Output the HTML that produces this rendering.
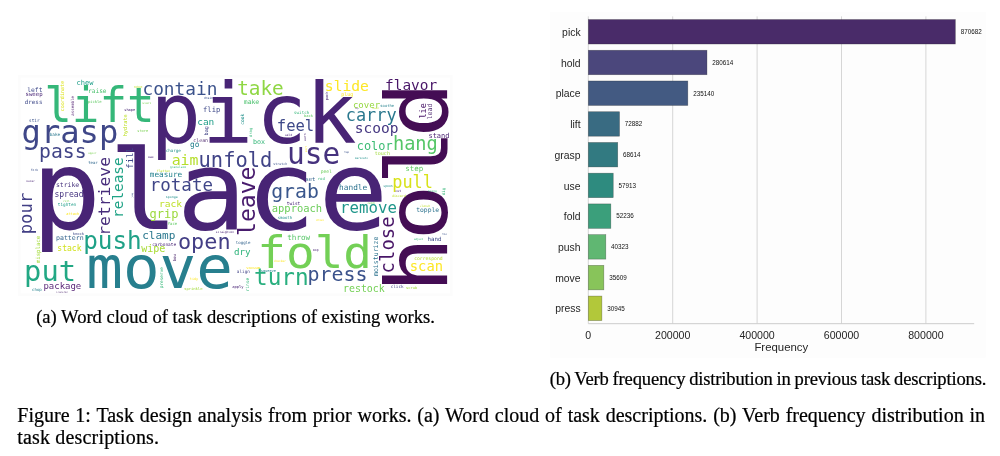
<!DOCTYPE html>
<html><head><meta charset="utf-8"><title>Figure 1</title>
<style>
html,body{margin:0;padding:0;background:#fff;}
body{width:1000px;height:456px;position:relative;overflow:hidden;font-family:"Liberation Serif",serif;color:#000;}
svg{position:absolute;left:0;top:0;}
svg text{font-family:"DejaVu Sans Mono","Liberation Mono",monospace;}
svg text.ar{font-family:"Liberation Sans",sans-serif;}
.cap{position:absolute;white-space:nowrap;-webkit-text-stroke:0.22px #000;}
#ca{left:36.2px;top:305.6px;font-size:18.57px;line-height:22px;}
#cb{left:549.7px;top:368.1px;font-size:18.57px;line-height:22px;word-spacing:-0.6px;letter-spacing:-0.17px;}
#fig{left:17.3px;top:403.5px;width:967.8px;font-size:20px;line-height:22px;white-space:normal;text-align:justify;}
</style></head><body>
<svg width="1000" height="456" viewBox="0 0 1000 456">
<rect x="19.4" y="76.3" width="431.9" height="218.4" fill="#ffffff" stroke="#fcfcfc" stroke-width="2.6"/>
<g id="cloud">
<text transform="translate(0,228.80) scale(1,0.955)" x="31.31 108.60 176.39 245.74 318.27" y="0" font-size="116.60" fill="#482475">place</text>
<text transform="translate(446.60,0) rotate(-90) scale(1,0.923)" x="-292.84 -240.52 -185.38 -137.60" y="0" font-size="93.00" fill="#440d54">hold</text>
<text transform="translate(0,143.00) scale(1,0.98)" x="151.26" y="0" dx="-1 1 3 -1.2" font-size="84.54" fill="#482475">pick</text>
<text transform="translate(0,288.00) scale(1,0.96)" x="86.27" y="0" font-size="60.88" fill="#277f8e">move</text>
<text transform="translate(0,268.20) scale(1,0.945)" x="257.28" y="0" font-size="47.65" fill="#73d056">fold</text>
<text transform="translate(0,122.40) scale(1,1.04)" x="44.22" y="0" font-size="45.89" fill="#35b779">lift</text>
<text x="21.58" y="143.00" font-size="32.11" fill="#3f4788">grasp</text>
<text x="287.07" y="163.80" font-size="29.46" fill="#46327e">use</text>
<text x="24.10" y="281.00" font-size="28.74" fill="#22a884">put</text>
<text x="83.16" y="248.80" font-size="24.32" fill="#1fa187">push</text>
<text transform="translate(254.60,235.98) rotate(-90)" font-size="23.09" fill="#481b6d">leave</text>
<text x="253.97" y="284.80" font-size="22.69" fill="#29af7f">turn</text>
<text x="177.96" y="248.80" font-size="21.84" fill="#433e85">open</text>
<text x="198.59" y="166.50" font-size="20.42" fill="#414487">unfold</text>
<text x="307.59" y="281.20" font-size="19.91" fill="#3b528b">press</text>
<text x="271.16" y="197.90" font-size="19.79" fill="#39568c">grab</text>
<text x="39.11" y="158.20" font-size="19.72" fill="#414487">pass</text>
<text x="237.13" y="95.00" font-size="19.38" fill="#8fd744">take</text>
<text transform="translate(394.40,273.39) rotate(-90)" font-size="18.96" fill="#481567">close</text>
<text x="392.94" y="149.60" font-size="18.64" fill="#55c667">hang</text>
<text x="142.46" y="94.50" font-size="17.78" fill="#3b528b">contain</text>
<text x="149.79" y="190.60" font-size="17.49" fill="#404688">rotate</text>
<text transform="translate(32.40,234.30) rotate(-90)" font-size="17.30" fill="#423f85">pour</text>
<text x="345.76" y="121.00" font-size="16.91" fill="#2a788e">carry</text>
<text x="392.32" y="187.90" font-size="16.88" fill="#d8e219">pull</text>
<text transform="translate(109.80,235.79) rotate(-90)" font-size="16.37" fill="#472d7b">retrieve</text>
<text x="340.05" y="213.40" font-size="15.74" fill="#1f968b">remove</text>
<text x="276.78" y="130.60" font-size="15.56" fill="#3e4989">feel</text>
<text x="171.66" y="164.50" font-size="14.85" fill="#b5de2b">aim</text>
<text x="324.82" y="91.00" font-size="14.65" fill="#fde725">slide</text>
<text x="354.83" y="133.00" font-size="14.53" fill="#453781">scoop</text>
<text x="385.01" y="89.60" font-size="14.44" fill="#481567">flavor</text>
<text transform="translate(122.90,217.88) rotate(-90)" font-size="14.35" fill="#20a386">release</text>
<text x="409.82" y="270.90" font-size="13.77" fill="#fde725">scan</text>
<text x="149.49" y="217.90" font-size="12.06" fill="#9bd93c">grip</text>
<text x="356.73" y="149.60" font-size="11.91" fill="#3dbc74">color</text>
<text x="142.19" y="239.20" font-size="11.04" fill="#2a788e">clamp</text>
<text x="271.72" y="211.90" font-size="10.47" fill="#6ccd5a">approach</text>
<text x="141.18" y="251.90" font-size="10.06" fill="#a8db34">wipe</text>
<text x="342.97" y="291.90" font-size="9.94" fill="#74d055">restock</text>
<text x="158.88" y="206.50" font-size="9.59" fill="#bddf26">rack</text>
<text x="197.22" y="125.00" font-size="9.46" fill="#1f9e89">can</text>
<text x="233.97" y="254.80" font-size="9.22" fill="#2fb47c">dry</text>
<text x="352.94" y="108.00" font-size="9.04" fill="#95d840">cover</text>
<text x="43.45" y="288.90" font-size="8.97" fill="#5c2a7a">package</text>
<text transform="translate(133.00,168.69) rotate(-90)" font-size="8.89" fill="#3e4989">fill</text>
<text transform="translate(426.00,118.55) rotate(-90)" font-size="8.48" fill="#481567">lie</text>
<text x="54.38" y="197.30" font-size="8.07" fill="#463480">spread</text>
<text x="57.35" y="250.90" font-size="8.04" fill="#d0e11c">stack</text>
<text x="189.99" y="147.00" font-size="7.84" fill="#26828e">go</text>
<text x="339.06" y="189.90" font-size="7.80" fill="#2c728e">handle</text>
<text x="149.84" y="176.50" font-size="7.68" fill="#26828e">measure</text>
<text x="287.29" y="240.30" font-size="7.62" fill="#56c667">throw</text>
<text x="405.36" y="170.90" font-size="7.46" fill="#5ec962">step</text>
<text x="203.04" y="111.60" font-size="7.17" fill="#3e4989">flip</text>
<text x="76.45" y="85.00" font-size="7.07" fill="#1f9e89">chew</text>
<text x="428.43" y="138.40" font-size="7.00" fill="#481f70">stand</text>
<text x="253.07" y="143.80" font-size="6.69" fill="#35b779">box</text>
<text transform="translate(431.60,119.40) rotate(-90)" font-size="6.60" fill="#5c3a7a">lead</text>
<text x="55.99" y="240.40" font-size="6.57" fill="#33638d">pattern</text>
<text transform="translate(378.40,276.05) rotate(-90)" font-size="6.57" fill="#2c728e">moisturize</text>
<text x="55.91" y="187.30" font-size="6.45" fill="#46327e">strike</text>
<text x="243.77" y="104.40" font-size="6.43" fill="#4ac16d">make</text>
<text x="416.17" y="211.90" font-size="6.37" fill="#2c728e">topple</text>
<text x="27.22" y="91.60" font-size="6.35" fill="#3e4989">left</text>
<text x="88.05" y="93.00" font-size="6.17" fill="#4ac16d">raise</text>
<text x="24.78" y="104.40" font-size="5.87" fill="#3e4989">dress</text>
<text x="427.55" y="241.10" font-size="5.77" fill="#3e4989">hand</text>
<text x="25.54" y="96.40" font-size="5.67" fill="#482475">sweep</text>
<text transform="translate(40.20,263.09) rotate(-90)" font-size="5.65" fill="#a2da37">misplace</text>
<text x="305.50" y="180.90" font-size="5.51" fill="#33638d">set</text>
<text transform="translate(127.00,136.34) rotate(-90)" font-size="5.24" fill="#bddf26">hydrate</text>
<text transform="translate(208.30,135.41) rotate(-90)" font-size="5.10" fill="#414487">bag</text>
<text x="341.22" y="95.60" font-size="5.05" fill="#fde725">plug</text>
<text transform="translate(64.40,111.25) rotate(-90)" font-size="5.04" fill="#dde318">coordinate</text>
<text x="374.80" y="155.40" font-size="5.03" fill="#a0da39">touch</text>
<text x="193.24" y="141.60" font-size="4.95" fill="#5c3a7a">clean</text>
<text x="414.16" y="260.30" font-size="4.73" fill="#b8de29">correspond</text>
<text x="320.64" y="172.50" font-size="4.71" fill="#6ccd5a">peel</text>
<text transform="translate(243.60,124.76) rotate(-90)" font-size="4.63" fill="#21918c">cook</text>
<text x="286.82" y="204.50" font-size="4.49" fill="#482475">twist</text>
<text transform="translate(249.00,291.29) rotate(-90)" font-size="4.47" fill="#35b779">rinse</text>
<text x="29.02" y="121.60" font-size="4.43" fill="#3b528b">stir</text>
<text transform="translate(163.30,288.25) rotate(-90)" font-size="4.43" fill="#35b779">preserve</text>
<text x="152.16" y="245.90" font-size="4.41" fill="#482475">carbonate</text>
<text x="57.86" y="206.30" font-size="4.36" fill="#1f9e89">tighten</text>
<text x="49.67" y="135.60" font-size="4.36" fill="#2a788e">bake</text>
<text x="236.82" y="272.90" font-size="4.34" fill="#414487">align</text>
<text x="390.69" y="288.30" font-size="4.28" fill="#414487">click</text>
<text x="165.71" y="151.60" font-size="4.21" fill="#21918c">charge</text>
<text x="294.08" y="113.60" font-size="4.20" fill="#35b779">switch</text>
<text transform="translate(445.40,195.20) rotate(-90)" font-size="4.17" fill="#35b779">dig</text>
<text transform="translate(73.60,115.71) rotate(-90)" font-size="4.11" fill="#5c2a7a">assemble</text>
<text x="235.85" y="243.50" font-size="4.06" fill="#33638d">toggle</text>
<text x="277.69" y="218.50" font-size="4.03" fill="#21918c">smooth</text>
<text x="32.09" y="290.90" font-size="4.02" fill="#26828e">chop</text>
<text transform="translate(176.40,261.32) rotate(-90)" font-size="4.02" fill="#5c3a7a">bow</text>
<text x="88.22" y="164.00" font-size="3.93" fill="#31688e">tear</text>
<text x="167.69" y="224.90" font-size="3.93" fill="#5ec962">face</text>
<text transform="translate(251.60,137.17) rotate(-90)" font-size="3.93" fill="#35b779">drag</text>
<text x="87.74" y="102.60" font-size="3.87" fill="#5ec962">pickle</text>
<text x="317.77" y="179.90" font-size="3.84" fill="#35b779">rod</text>
<text x="380.31" y="106.60" font-size="3.82" fill="#26828e">soothe</text>
<text x="246.32" y="268.90" font-size="3.81" fill="#fde725">vacuum</text>
<text x="184.14" y="289.90" font-size="3.81" fill="#a0da39">sprinkle</text>
<text x="232.25" y="287.50" font-size="3.79" fill="#482475">apply</text>
<text x="72.65" y="235.30" font-size="3.76" fill="#3e4989">knock</text>
<text x="304.12" y="117.20" font-size="3.68" fill="#5ec962">back</text>
<text x="406.10" y="288.90" font-size="3.66" fill="#a0da39">scrub</text>
<text x="260.74" y="271.50" font-size="3.64" fill="#26828e">squeeze</text>
<text transform="translate(327.80,100.27) rotate(-90)" font-size="3.60" fill="#482475">pack</text>
<text x="124.31" y="110.60" font-size="3.59" fill="#482475">shape</text>
<text x="137.31" y="132.40" font-size="3.59" fill="#7ad151">store</text>
<text x="66.27" y="214.50" font-size="3.58" fill="#fde725">attach</text>
<text x="189.85" y="280.30" font-size="3.41" fill="#fde725">tidy</text>
<text x="165.75" y="197.90" font-size="3.31" fill="#21918c">sponge</text>
<text x="391.90" y="197.30" font-size="3.30" fill="#bddf26">discard</text>
<text x="395.33" y="191.90" font-size="3.29" fill="#482475">cut</text>
<text x="273.36" y="164.50" font-size="3.28" fill="#3b528b">stretch</text>
<text x="156.80" y="171.50" font-size="3.18" fill="#bddf26">flatten</text>
<text x="312.88" y="250.90" font-size="3.14" fill="#482475">mop</text>
<text transform="translate(306.40,140.94) rotate(-90)" font-size="3.14" fill="#482475">warn</text>
<text x="148.04" y="158.00" font-size="3.12" fill="#482475">wax</text>
<text x="203.88" y="99.00" font-size="3.10" fill="#3b528b">drain</text>
<text x="383.35" y="186.90" font-size="3.07" fill="#21918c">spoon</text>
<text x="133.53" y="87.60" font-size="3.02" fill="#bddf26">robot</text>
<text x="30.77" y="170.50" font-size="3.00" fill="#3b528b">fork</text>
<text x="285.05" y="135.60" font-size="2.98" fill="#482475">weld</text>
<text x="215.83" y="232.90" font-size="2.97" fill="#482475">straighten</text>
<text x="169.94" y="167.90" font-size="2.97" fill="#35b779">granulate</text>
<text x="142.36" y="103.60" font-size="2.94" fill="#7ad151">start</text>
<text x="26.28" y="181.50" font-size="2.91" fill="#482475">outer</text>
<text x="273.81" y="262.30" font-size="2.90" fill="#fde725">checker</text>
<text x="419.80" y="207.30" font-size="2.87" fill="#bddf26">clench</text>
<text x="428.20" y="191.50" font-size="2.79" fill="#35b779">bring</text>
<text x="88.20" y="154.00" font-size="2.74" fill="#7ad151">upper</text>
<text x="354.95" y="158.80" font-size="2.72" fill="#21918c">marinate</text>
<text x="315.90" y="221.30" font-size="2.72" fill="#fde725">drive</text>
<text x="344.27" y="153.00" font-size="2.69" fill="#3b528b">tap</text>
<text x="442.27" y="235.30" font-size="2.69" fill="#3b528b">tie</text>
<text x="63.18" y="201.90" font-size="2.68" fill="#7ad151">roll</text>
<text transform="translate(307.00,152.23) rotate(-90)" font-size="2.68" fill="#fde725">sort</text>
<text x="367.41" y="203.90" font-size="2.58" fill="#7ad151">catch</text>
<text x="413.91" y="239.50" font-size="2.57" fill="#35b779">adjust</text>
<text x="55.93" y="292.50" font-size="2.51" fill="#5c3a7a">transfer</text>
<text x="372.28" y="109.00" font-size="2.25" fill="#bddf26">lower</text>
<text transform="translate(132.60,198.16) rotate(-90)" font-size="2.18" fill="#3b528b">jump</text>
<text x="354.90" y="109.40" font-size="1.99" fill="#482475">tip</text>
</g>
<g id="chart">
<rect x="550.2" y="12" width="435.6" height="345.8" fill="#fdfdfd"/>
<line x1="588.30" y1="16.4" x2="588.30" y2="323.7" stroke="#d6d6d6" stroke-width="1"/>
<line x1="672.70" y1="16.4" x2="672.70" y2="323.7" stroke="#d6d6d6" stroke-width="1"/>
<line x1="757.10" y1="16.4" x2="757.10" y2="323.7" stroke="#d6d6d6" stroke-width="1"/>
<line x1="841.50" y1="16.4" x2="841.50" y2="323.7" stroke="#d6d6d6" stroke-width="1"/>
<line x1="925.90" y1="16.4" x2="925.90" y2="323.7" stroke="#d6d6d6" stroke-width="1"/>
<line x1="588.3" y1="323.7" x2="974.2" y2="323.7" stroke="#cccccc" stroke-width="1"/>
<rect x="588.3" y="19.52" width="367.06" height="24.5" fill="#492b69" stroke="rgba(40,40,40,0.45)" stroke-width="0.6"/>
<text x="580.6" y="35.87" font-size="10.4" text-anchor="end" fill="#262626" class="ar">pick</text>
<text x="960.66" y="34.06" font-size="6.3" fill="#111" class="ar">870682</text>
<rect x="588.3" y="50.24" width="118.67" height="24.5" fill="#4b477c" stroke="rgba(40,40,40,0.45)" stroke-width="0.6"/>
<text x="580.6" y="66.59" font-size="10.4" text-anchor="end" fill="#262626" class="ar">hold</text>
<text x="712.27" y="64.80" font-size="6.3" fill="#111" class="ar">280614</text>
<rect x="588.3" y="80.97" width="99.53" height="24.5" fill="#435a82" stroke="rgba(40,40,40,0.45)" stroke-width="0.6"/>
<text x="580.6" y="97.32" font-size="10.4" text-anchor="end" fill="#262626" class="ar">place</text>
<text x="693.13" y="95.52" font-size="6.3" fill="#111" class="ar">235140</text>
<rect x="588.3" y="111.71" width="31.23" height="24.5" fill="#396b82" stroke="rgba(40,40,40,0.45)" stroke-width="0.6"/>
<text x="580.6" y="128.06" font-size="10.4" text-anchor="end" fill="#262626" class="ar">lift</text>
<text x="624.83" y="126.26" font-size="6.3" fill="#111" class="ar">72882</text>
<rect x="588.3" y="142.44" width="29.43" height="24.5" fill="#327a81" stroke="rgba(40,40,40,0.45)" stroke-width="0.6"/>
<text x="580.6" y="158.78" font-size="10.4" text-anchor="end" fill="#262626" class="ar">grasp</text>
<text x="623.03" y="156.99" font-size="6.3" fill="#111" class="ar">68614</text>
<rect x="588.3" y="173.17" width="24.93" height="24.5" fill="#2e8b7f" stroke="rgba(40,40,40,0.45)" stroke-width="0.6"/>
<text x="580.6" y="189.52" font-size="10.4" text-anchor="end" fill="#262626" class="ar">use</text>
<text x="618.53" y="187.72" font-size="6.3" fill="#111" class="ar">57913</text>
<rect x="588.3" y="203.90" width="22.54" height="24.5" fill="#3b9f7b" stroke="rgba(40,40,40,0.45)" stroke-width="0.6"/>
<text x="580.6" y="220.25" font-size="10.4" text-anchor="end" fill="#262626" class="ar">fold</text>
<text x="616.14" y="218.45" font-size="6.3" fill="#111" class="ar">52236</text>
<rect x="588.3" y="234.62" width="17.52" height="24.5" fill="#60b772" stroke="rgba(40,40,40,0.45)" stroke-width="0.6"/>
<text x="580.6" y="250.97" font-size="10.4" text-anchor="end" fill="#262626" class="ar">push</text>
<text x="611.12" y="249.18" font-size="6.3" fill="#111" class="ar">40323</text>
<rect x="588.3" y="265.35" width="15.54" height="24.5" fill="#88c45a" stroke="rgba(40,40,40,0.45)" stroke-width="0.6"/>
<text x="580.6" y="281.70" font-size="10.4" text-anchor="end" fill="#262626" class="ar">move</text>
<text x="609.14" y="279.90" font-size="6.3" fill="#111" class="ar">35609</text>
<rect x="588.3" y="296.08" width="13.58" height="24.5" fill="#b2c83a" stroke="rgba(40,40,40,0.45)" stroke-width="0.6"/>
<text x="580.6" y="312.44" font-size="10.4" text-anchor="end" fill="#262626" class="ar">press</text>
<text x="607.18" y="310.63" font-size="6.3" fill="#111" class="ar">30945</text>
<text x="588.30" y="339.2" font-size="10.6" text-anchor="middle" fill="#262626" class="ar">0</text>
<text x="672.70" y="339.2" font-size="10.6" text-anchor="middle" fill="#262626" class="ar">200000</text>
<text x="757.10" y="339.2" font-size="10.6" text-anchor="middle" fill="#262626" class="ar">400000</text>
<text x="841.50" y="339.2" font-size="10.6" text-anchor="middle" fill="#262626" class="ar">600000</text>
<text x="925.90" y="339.2" font-size="10.6" text-anchor="middle" fill="#262626" class="ar">800000</text>
<text x="781.3" y="351.2" font-size="11.4" text-anchor="middle" fill="#262626" class="ar">Frequency</text>
</g>
</svg>
<div class="cap" id="ca">(a) Word cloud of task descriptions of existing works.</div>
<div class="cap" id="cb">(b) Verb frequency distribution in previous task descriptions.</div>
<div class="cap" id="fig">Figure 1: Task design analysis from prior works. (a) Word cloud of task descriptions. (b) Verb frequency distribution in <span style="letter-spacing:0.17px">task descriptions.</span></div>
</body></html>
